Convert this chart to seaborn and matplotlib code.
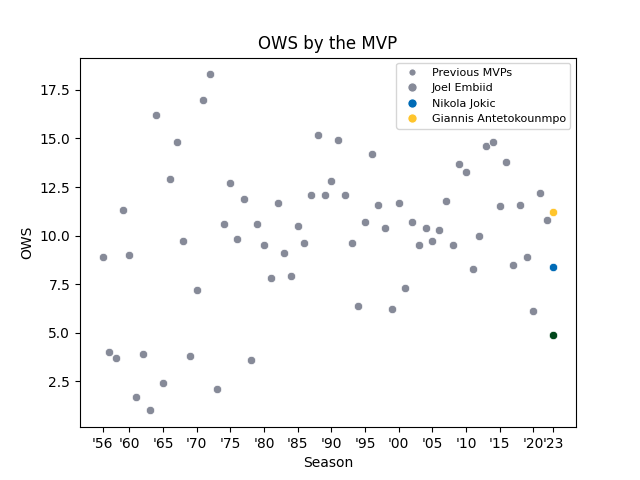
"""OWS of every MVP by season, with the 2023 candidates highlighted."""

import matplotlib
matplotlib.use("Agg")
import matplotlib.pyplot as plt
from matplotlib.lines import Line2D
import pandas as pd
import seaborn as sns

# Previous MVPs, one per season 1956-2022
seasons = list(range(1956, 2023))
ows = [
    8.9, 4.0, 3.7, 11.3, 9.0, 1.7, 3.9, 1.0, 16.2, 2.4,
    12.9, 14.8, 9.7, 3.8, 7.2, 17.0, 18.3, 2.1, 10.6, 12.7,
    9.8, 11.9, 3.6, 10.6, 9.5, 7.8, 11.7, 9.1, 7.9, 10.5,
    9.6, 12.1, 15.2, 12.1, 12.8, 14.9, 12.1, 9.6, 6.4, 10.7,
    14.2, 11.6, 10.4, 6.2, 11.7, 7.3, 10.7, 9.5, 10.4, 9.7,
    10.3, 11.8, 9.5, 13.7, 13.3, 8.3, 10.0, 14.6, 14.8, 11.5,
    13.8, 8.5, 11.6, 8.9, 6.1, 12.2, 10.8,
]

# 2023 candidates as drawn in the chart
cand_season = [2023, 2023, 2023]
cand_ows = [11.2, 8.4, 4.9]
cand_colors = ["#FFC52C", "#006BB6", "#00471B"]

tick_years = [1956, 1960, 1965, 1970, 1975, 1980, 1985, 1990, 1995,
              2000, 2005, 2010, 2015, 2020, 2023]

gray = "#868A98"

df = pd.DataFrame({"season": seasons, "ows": ows})
cand = pd.DataFrame({"season": cand_season, "ows": cand_ows, "color": cand_colors})

fig, ax = plt.subplots(figsize=(6.4, 4.8), dpi=100)

sns.scatterplot(data=df, x="season", y="ows", color=gray, ax=ax)
for _, row in cand.iterrows():
    sns.scatterplot(x=[row["season"]], y=[row["ows"]], color=row["color"], ax=ax)

ax.set_xticks(tick_years)
ax.set_xticklabels([f"'{y % 100:02d}" for y in tick_years])
ax.set_xlabel("Season")
ax.set_ylabel("OWS")
ax.set_title("OWS by the MVP")

handles = [
    Line2D([], [], marker="o", linestyle="", color=gray, markeredgecolor="white",
           markersize=5.5, label="Previous MVPs"),
    Line2D([], [], marker="o", linestyle="", color=gray, markeredgecolor="white",
           markersize=7, label="Joel Embiid"),
    Line2D([], [], marker="o", linestyle="", color="#006BB6", markeredgecolor="white",
           markersize=7, label="Nikola Jokic"),
    Line2D([], [], marker="o", linestyle="", color="#FFC52C", markeredgecolor="white",
           markersize=7, label="Giannis Antetokounmpo"),
]
ax.legend(handles=handles, loc="upper right", fontsize=8)

fig.savefig("out.png")
